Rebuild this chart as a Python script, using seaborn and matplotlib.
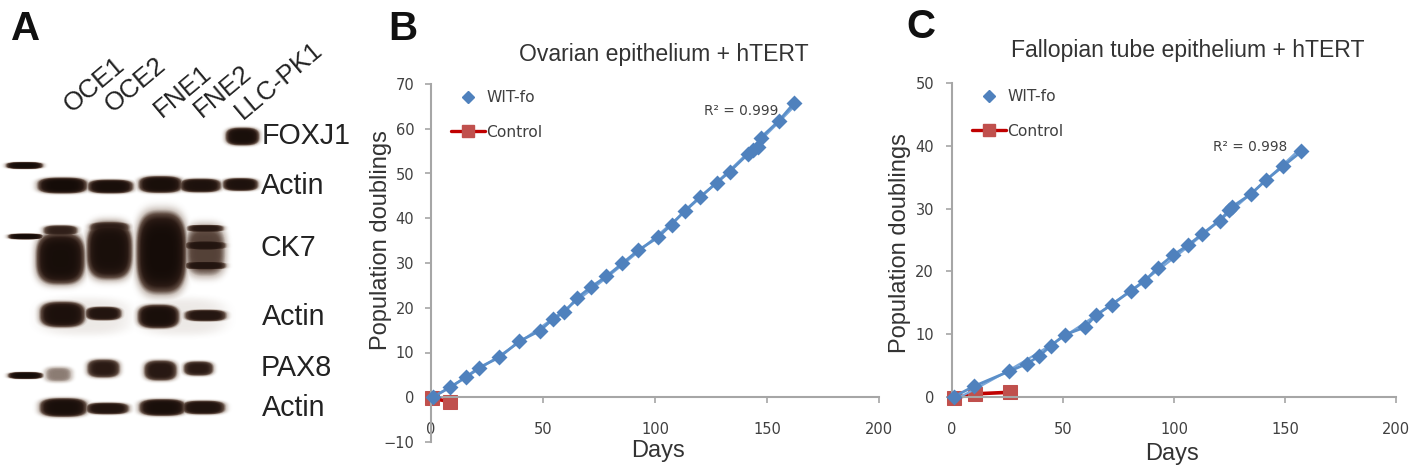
import numpy as np, pandas as pd, matplotlib
matplotlib.use('Agg')
import matplotlib.pyplot as plt
import seaborn as sns
from matplotlib.colors import LinearSegmentedColormap
from matplotlib.lines import Line2D

W, H = 1410, 471

# panel B data
b_days = [0.7, 8.5, 15.6, 21.4, 30.4, 39.4, 48.7, 54.5, 59.5, 65.3, 71.3, 78.3, 85.4, 92.4,
          101.2, 107.4, 113.4, 120.2, 127.5, 133.3, 141.4, 143.9, 145.8, 147.2, 155.2, 162]
b_pd = [0, 2.2, 4.5, 6.6, 8.9, 12.5, 14.9, 17.5, 19, 22.2, 24.6, 27, 29.9, 32.8,
        35.7, 38.6, 41.7, 44.8, 47.9, 50.4, 54.3, 55.2, 55.9, 58, 61.7, 65.7]
b_ctrl_days = [0.3, 8.5]
b_ctrl_pd = [-0.2, -1]

# panel C data
c_days = [0.7, 9.8, 25.8, 33.8, 39.2, 44.7, 50.7, 59.9, 64.8, 71.9, 80.6, 86.9, 92.7, 99.6,
          106.4, 112.5, 120.5, 124.8, 126.2, 134.6, 141.3, 149.3, 157.4]
c_pd = [0, 1.7, 4.1, 5.3, 6.5, 8.2, 9.9, 11.1, 13, 14.7, 16.9, 18.5, 20.6, 22.6,
        24.2, 25.9, 28.1, 29.7, 30.3, 32.3, 34.5, 36.8, 39.1]
c_ctrl_days = [0.7, 10.2, 26]
c_ctrl_pd = [-0.2, 0.5, 0.75]

# panel A band intensities, one value per lane
lanes = ['OCE1', 'OCE2', 'FNE1', 'FNE2', 'LLC-PK1']
foxj1_level = [0, 0, 0, 0, 0.95]
actin1_level = [1.0, 0.95, 0.95, 0.9, 0.9]
ck7_level = [0.97, 0.95, 1.0, 0.55, 0]
actin2_level = [0.92, 0.85, 0.95, 0.82, 0]
pax8_level = [0.4, 0.75, 0.78, 0.75, 0]
actin3_level = [0.95, 0.85, 0.95, 0.88, 0]

BLUE, RED, GREY, TXT = '#4f81bd', '#c0504d', '#a6a6a6', '#404040'

sns.set_theme(style='white')
plt.rcParams['font.family'] = ['Liberation Sans', 'DejaVu Sans']
fig = plt.figure(figsize=(W / 100, H / 100), dpi=100)


def px_axes(x0, y_top, x1, y_bot):
    return fig.add_axes([x0 / W, 1 - y_bot / H, (x1 - x0) / W, (y_bot - y_top) / H])


def label(x, y, s, **kw):
    kw.setdefault('ha', 'center')
    kw.setdefault('va', 'center')
    fig.text(x / W, 1 - y / H, s, **kw)


# A: blot rendered as a heatmap of band darkness
# each band: level, centre x, centre y, width, height (pixels)
bands = []
for lvl, geo in zip(foxj1_level[4:], [(242, 136, 34, 18)]):
    bands.append((lvl, *geo))
for lvl, geo in zip(actin1_level, [(62, 185, 50, 16), (110, 186, 46, 14), (160, 184, 44, 17),
                                   (200, 185, 42, 14), (240, 184, 36, 13)]):
    bands.append((lvl, *geo))
for lvl, geo in zip(ck7_level[:4], [(60, 258, 49, 52), (109, 250, 46, 58), (161, 252, 50, 82),
                                    (205, 250, 42, 54)]):
    bands.append((lvl, *geo))
bands += [(0.72, 60, 230, 36, 11), (0.74, 109, 228, 42, 14),
          (0.78, 205, 228, 38, 8), (0.85, 205, 245, 42, 10), (0.85, 205, 265, 42, 9)]
# haze behind the second actin row
bands += [(0.1, 84, 316, 92, 38), (0.1, 182, 316, 88, 38)]
for lvl, geo in zip(actin2_level, [(62, 314, 46, 26), (103, 313, 37, 14), (158, 316, 42, 24),
                                   (205, 315, 43, 12)]):
    bands.append((lvl, *geo))
for lvl, geo in zip(pax8_level, [(58, 374, 29, 16), (103, 368, 34, 19), (160, 370, 34, 21),
                                 (198, 368, 31, 15)]):
    bands.append((lvl, *geo))
for lvl, geo in zip(actin3_level, [(63, 407, 48, 19), (107, 408, 44, 12), (162, 407, 47, 17),
                                   (203, 407, 44, 14)]):
    bands.append((lvl, *geo))
# size marker dashes
bands += [(1.0, 24, 165, 37, 7), (1.0, 25, 236, 35, 6), (1.0, 25, 375, 35, 7)]

yy, xx = np.mgrid[0:H, 0:370]
blot = np.zeros_like(xx, dtype=float)
for lvl, cx, cy, bw, bh in bands:
    r = np.abs((xx - cx) / (bw / 2)) ** 3 + np.abs((yy - cy) / (bh / 2)) ** 3
    blot = np.maximum(blot, lvl * np.exp(-r ** 2))

blot_cmap = LinearSegmentedColormap.from_list('blot', ['#ffffff', '#cfc6c0', '#5e4a40', '#2a1a14', '#150c08'])
ax_a = px_axes(0, 0, 370, H)
sns.heatmap(blot, ax=ax_a, cmap=blot_cmap, vmin=0, vmax=1, cbar=False,
            xticklabels=False, yticklabels=False, rasterized=True)

label(26, 29, 'A', fontsize=29, fontweight='bold', color='#111111')
for name, x, y in zip(lanes, [67, 108, 157, 197, 238], [108, 108, 113, 113, 115]):
    label(x, y, name, fontsize=18.8, rotation=40, rotation_mode='anchor', ha='left', va='center', color='#222222')
for name, y, x in zip(['FOXJ1', 'Actin', 'CK7', 'Actin', 'PAX8', 'Actin'],
                      [136, 186, 248, 317, 368, 408], [262, 261, 261, 262, 261, 262]):
    label(x, y, name, fontsize=20.6, ha='left', color='#222222')


def growth_panel(box, days, pd_vals, ctrl_days, ctrl_vals, ylim, yticks, r2, r2_xy):
    ax = px_axes(*box)
    df = pd.DataFrame({'days': days, 'pd': pd_vals})
    ctrl = pd.DataFrame({'days': ctrl_days, 'pd': ctrl_vals})
    sns.lineplot(data=ctrl, x='days', y='pd', ax=ax, color='#c00000', lw=2.6, marker='s', ms=9.5,
                 mfc=RED, mec=RED, errorbar=None, sort=False, clip_on=False)
    sns.regplot(data=df, x='days', y='pd', ax=ax, order=2, ci=None, scatter=False, truncate=True,
                line_kws={'color': '#7aa7d9', 'lw': 1.6})
    sns.lineplot(data=df, x='days', y='pd', ax=ax, color='#5b8fc9', lw=2, errorbar=None, sort=False)
    sns.scatterplot(data=df, x='days', y='pd', ax=ax, marker='D', s=66, color=BLUE, edgecolor=BLUE,
                    linewidth=0, zorder=4, clip_on=False)
    ax.set_xlim(0, 200)
    ax.set_ylim(*ylim)
    ax.set_xticks([0, 50, 100, 150, 200])
    ax.set_yticks(yticks)
    ax.set_xlabel('')
    ax.set_ylabel('')
    ax.patch.set_alpha(0)
    for s in ['top', 'right']:
        ax.spines[s].set_visible(False)
    ax.spines['bottom'].set_position(('data', 0))
    for s in ['left', 'bottom']:
        ax.spines[s].set_color(GREY)
        ax.spines[s].set_linewidth(1.5)
    ax.tick_params(axis='both', left=True, bottom=True, length=4, width=1.2, color=GREY, labelcolor=TXT,
                   labelfontfamily='DejaVu Sans')
    ax.tick_params(axis='x', pad=14, labelsize=10.5)
    ax.tick_params(axis='y', pad=8 if ylim[0] < 0 else 9, labelsize=10.5)
    handles = [Line2D([], [], ls='', marker='D', ms=6, color=BLUE, label='WIT-fo'),
               Line2D([], [], color='#c00000', lw=2.4, marker='s', ms=8.5, mfc=RED, mec=RED, label='Control')]
    ax.legend(handles=handles, loc='upper left', bbox_to_anchor=(0.03, 1.0), frameon=False, handlelength=2.2,
              handletextpad=0.1, labelspacing=1.25, prop={'family': 'DejaVu Sans', 'size': 11.2},
              labelcolor=TXT, borderpad=0.3, borderaxespad=0.1)
    label(r2_xy[0], r2_xy[1], r2, fontsize=9.8, color=TXT, family='DejaVu Sans')
    return ax


# B
growth_panel((431, 84, 879, 442), b_days, b_pd, b_ctrl_days, b_ctrl_pd, (-10, 70),
             list(range(-10, 71, 10)), 'R\u00b2 = 0.999', (741, 111))
label(403, 29, 'B', fontsize=29, fontweight='bold', color='#111111')
label(664, 54, 'Ovarian epithelium + hTERT', fontsize=16.6, color='#333333')
label(381, 240, 'Population doublings', fontsize=17, rotation=90, color='#333333')
label(658, 451, 'Days', fontsize=17, color='#333333')

# C
growth_panel((952, 83, 1396, 397), c_days, c_pd, c_ctrl_days, c_ctrl_pd, (0, 50),
             list(range(0, 51, 10)), 'R\u00b2 = 0.998', (1250, 147))
label(921, 27, 'C', fontsize=29, fontweight='bold', color='#111111')
label(1188, 50, 'Fallopian tube epithelium + hTERT', fontsize=16.6, color='#333333')
label(900, 243, 'Population doublings', fontsize=17, rotation=90, color='#333333')
label(1172, 454, 'Days', fontsize=17, color='#333333')

plt.savefig('out.png', dpi=100)
plt.close()
